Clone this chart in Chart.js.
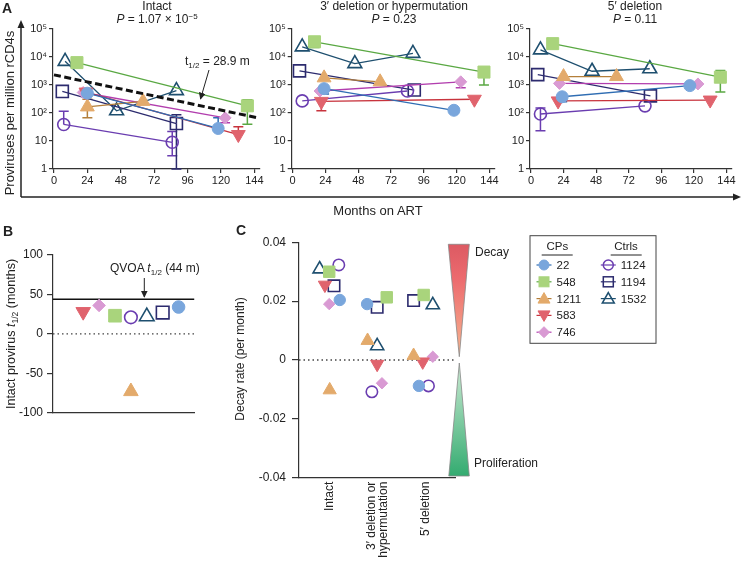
<!DOCTYPE html>
<html>
<head>
<meta charset="utf-8">
<script src="https://cdn.jsdelivr.net/npm/chart.js@4.4.1/dist/chart.umd.min.js"></script>
<style>
    body { margin: 0; background: #fff; }
    #fig { position: relative; width: 742px; height: 561px; overflow: hidden; background: #fff; }
    #fig canvas { position: absolute; }
    #ov { position: absolute; left: 0; top: 0; pointer-events: none; }
</style>
</head>
<body>
<div id="fig">
    <canvas id="intactChart" width="250" height="200" style="left:20px;top:0"></canvas>
    <canvas id="del3Chart" width="245" height="200" style="left:260px;top:0"></canvas>
    <canvas id="del5Chart" width="244" height="200" style="left:498px;top:0"></canvas>
    <canvas id="halfLifeChart" width="205" height="200" style="left:0;top:225px"></canvas>
    <canvas id="decayChart" width="215" height="336" style="left:250px;top:225px"></canvas>

    <svg id="ov" width="742" height="561" xmlns="http://www.w3.org/2000/svg"
         font-family='"Liberation Sans", Arial, Helvetica, sans-serif' fill="#222">
        <defs>
            <marker id="ah" viewBox="0 0 10 10" refX="9" refY="5" markerWidth="7" markerHeight="7" orient="auto">
                <path d="M0,0 L10,5 L0,10 z" fill="#222"/>
            </marker>
            <linearGradient id="gDecay" x1="0" y1="0" x2="0" y2="1">
                <stop offset="0" stop-color="#dc5a63"/>
                <stop offset="0.3" stop-color="#ec6a6e"/>
                <stop offset="1" stop-color="#f8b590"/>
            </linearGradient>
            <linearGradient id="gProl" x1="0" y1="0" x2="0" y2="1">
                <stop offset="0" stop-color="#cdebd4"/>
                <stop offset="1" stop-color="#33ab70"/>
            </linearGradient>
        </defs>

        <!-- panel A frame -->
        <text x="2" y="13" font-weight="bold" font-size="14">A</text>
        <path d="M21,197 V27" stroke="#222" stroke-width="1.5" fill="none"/>
        <polygon points="21,20 17.5,28 24.5,28" fill="#222"/>
        <path d="M21,197 H734" stroke="#222" stroke-width="1.5" fill="none"/>
        <polygon points="741,197 733,193.5 733,200.5" fill="#222"/>
        <text transform="translate(14,113) rotate(-90)" text-anchor="middle" font-size="13">Proviruses per million rCD4s</text>
        <text x="378" y="215" text-anchor="middle" font-size="13">Months on ART</text>

        <text x="157" y="10" text-anchor="middle" font-size="12">Intact</text>
        <text x="157" y="22.5" text-anchor="middle" font-size="12"><tspan font-style="italic">P</tspan> = 1.07 × 10<tspan dy="-4" font-size="8">−5</tspan></text>
        <text x="394" y="10" text-anchor="middle" font-size="12">3′ deletion or hypermutation</text>
        <text x="394" y="22.5" text-anchor="middle" font-size="12"><tspan font-style="italic">P</tspan> = 0.23</text>
        <text x="635" y="10" text-anchor="middle" font-size="12">5′ deletion</text>
        <text x="635" y="22.5" text-anchor="middle" font-size="12"><tspan font-style="italic">P</tspan> = 0.11</text>

        <text x="185" y="65" font-size="12">t<tspan font-size="8" dy="3">1/2</tspan><tspan dy="-3"> = 28.9 m</tspan></text>
        <line x1="209" y1="70" x2="200.5" y2="99" stroke="#222" stroke-width="1" marker-end="url(#ah)"/>

        <!-- panel B -->
        <text x="3" y="236" font-weight="bold" font-size="14">B</text>
        <text transform="translate(15,334) rotate(-90)" text-anchor="middle" font-size="12.5">Intact provirus <tspan font-style="italic">t</tspan><tspan font-size="8.5" dy="3">1/2</tspan><tspan dy="-3"> (months)</tspan></text>
        <text x="110" y="272" font-size="12">QVOA <tspan font-style="italic">t</tspan><tspan font-size="8" dy="3">1/2</tspan><tspan dy="-3"> (44 m)</tspan></text>
        <line x1="144.3" y1="278" x2="144.3" y2="297" stroke="#222" stroke-width="1" marker-end="url(#ah)"/>

        <!-- panel C -->
        <text x="236" y="235" font-weight="bold" font-size="14">C</text>
        <text transform="translate(244,359) rotate(-90)" text-anchor="middle" font-size="12">Decay rate (per month)</text>
        <polygon points="448.3,244.3 469.3,244.3 459.3,356.7" fill="url(#gDecay)" stroke="#888" stroke-width="0.8"/>
        <polygon points="459.3,363 448.8,476 469.3,476" fill="url(#gProl)" stroke="#888" stroke-width="0.8"/>
        <text x="475" y="256" font-size="12">Decay</text>
        <text x="474" y="467" font-size="12">Proliferation</text>

        <g id="legend">
            <rect x="530" y="235.7" width="126" height="107.6" fill="#fff" stroke="#444" stroke-width="1"/>
            <text x="557.3" y="250" text-anchor="middle" font-size="11.5">CPs</text>
            <line x1="541.7" y1="255" x2="572.7" y2="255" stroke="#222" stroke-width="1"/>
            <text x="626" y="250" text-anchor="middle" font-size="11.5">Ctrls</text>
            <line x1="610.7" y1="255" x2="641.7" y2="255" stroke="#222" stroke-width="1"/>
        </g>
    </svg>
</div>

<script>
(function () {
    'use strict';

    const FONT = '"Liberation Sans", Arial, Helvetica, sans-serif';
    Chart.defaults.font.family = FONT;
    Chart.defaults.color = '#222';

    // ---- data ----
    const patients = ['22', '548', '1211', '583', '746', '1124', '1194', '1532'];
    const monthTicks = [0, 24, 48, 72, 96, 120, 144];
    const logTicks = [1, 10, 100, 1000, 10000, 100000];
    const logTickLabels = ['1', '10', '10²', '10³', '10⁴', '10⁵'];

    // A: intact proviruses (months on ART, copies per million rCD4s)
    const intactMonths = [[24, 118], [16.5, 139], [24, 64], [23, 132.5], [21, 123], [7, 85], [6, 88], [8, 45, 88]];
    const intactCounts = [[510, 28], [6300, 180], [165, 260], [560, 17], [540, 67], [39, 9], [590, 42], [7000, 120, 630]];
    // [patient, point, low, high]
    const intactErrors = [[1, 1, 40, 300], [6, 1, 1, 87], [0, 1, null, 67], [4, 1, 45, null],
        [3, 1, null, 32], [2, 0, 68, 310], [5, 0, null, 115], [5, 1, 3, 22]];
    const intactFitMonths = [0, 146];
    const intactFitCounts = [2300, 68];

    // A: 3' deletion or hypermutation
    const del3Months = [[23, 118], [16, 140], [23, 64], [21, 133], [20, 123], [7, 84], [5, 89], [7, 45.5, 88]];
    const del3Counts = [[740, 125], [35000, 2900], [1800, 1300], [260, 310], [610, 1300], [270, 610], [3200, 660], [23000, 5800, 13500]];
    const del3Errors = [[1, 0, 22000, null], [1, 1, 1000, null], [4, 1, 800, null], [0, 0, 480, null], [3, 0, 120, null]];

    // A: 5' deletion
    const del5Months = [[23, 117], [16, 139.5], [24, 63], [20, 132], [21, 123], [7, 84], [5, 88], [7, 45, 87.5]];
    const del5Counts = [[380, 950], [30000, 1900], [2000, 2000], [270, 290], [1140, 1090], [92, 180], [2350, 410], [18000, 3100, 3800]];
    const del5Errors = [[1, 0, 20000, null], [1, 1, 560, 3300], [5, 0, 23, 150], [0, 0, 250, null]];

    // B: intact provirus half-life (months)
    const halfLifePos = [8, 4, 5, 2, 3, 5, 7, 6];
    const halfLifeMonths = [34, 23, -73, 28, 36, 21, 27, 22];
    const halfLifeTicks = [-100, -50, 0, 50, 100];
    const qvoaHalfLife = 44;

    // C: decay rate per month
    const decayGroups = ['Intact', ['3′ deletion or', 'hypermutation'], '5′ deletion'];
    const decayIntact = [0.0204, 0.030, -0.0102, 0.0255, 0.019, 0.0323, 0.0252, 0.0309];
    const decay3 = [0.019, 0.0213, 0.0066, -0.0014, -0.0079, -0.0108, 0.0179, 0.0048];
    const decay5 = [-0.0088, 0.0221, 0.0015, -0.0006, 0.0011, -0.0088, 0.0202, 0.0187];
    const jitterIntact = [0.21, -0.01, 0, -0.10, -0.01, 0.19, 0.09, -0.21];
    const jitter3 = [-0.22, 0.19, -0.21, -0.01, 0.09, -0.12, -0.01, -0.01];
    const jitter5 = [-0.14, -0.04, -0.25, -0.06, 0.15, 0.06, -0.25, 0.15];
    const decayTicks = [-0.04, -0.02, 0, 0.02, 0.04];

    // ---- styles ----
    const styles = [
        { shape: 'circle', fill: '#79a6dc', line: '#2f6db3' },
        { shape: 'rect', fill: '#a9d47c', line: '#5aa843' },
        { shape: 'triangle', fill: '#e3aa6b', line: '#b47f3a' },
        { shape: 'down', fill: '#e0636d', line: '#c8333d' },
        { shape: 'rectRot', fill: '#d99ad3', line: '#b23eae' },
        { shape: 'circle', open: true, line: '#6a3db0' },
        { shape: 'rect', open: true, line: '#2c2b6e' },
        { shape: 'triangle', open: true, line: '#1e4f6f' }
    ];
    const radii = { circle: 6, rect: 8.5, triangle: 8, down: 8, rectRot: 6 };

    function pointOpts(s, k) {
        return {
            pointStyle: s.shape === 'down' ? 'triangle' : s.shape,
            pointRotation: s.shape === 'down' ? 180 : 0,
            pointRadius: radii[s.shape] * k,
            pointBackgroundColor: s.open ? 'rgba(255,255,255,0)' : s.fill,
            pointBorderColor: s.open ? s.line : s.fill,
            pointBorderWidth: s.open ? 1.6 : 1
        };
    }

    const axisGrid = { drawOnChartArea: false, color: '#333', lineWidth: 1.2 };
    const axisBorder = { color: '#333', width: 1.2 };

    // error bars drawn beneath the symbols
    Chart.register({
        id: 'errorBars',
        beforeDatasetsDraw: function (chart) {
            const ctx = chart.ctx;
            const x = chart.scales.x, y = chart.scales.y;
            ctx.save();
            ctx.lineWidth = 1.5;
            chart.data.datasets.forEach(function (ds) {
                (ds.errors || []).forEach(function (e) {
                    const pt = ds.data[e[0]];
                    const px = x.getPixelForValue(pt.x);
                    const py = y.getPixelForValue(pt.y);
                    ctx.strokeStyle = ds.borderColor;
                    [e[1], e[2]].forEach(function (v) {
                        if (v === null) return;
                        const vy = y.getPixelForValue(v);
                        ctx.beginPath();
                        ctx.moveTo(px, py);
                        ctx.lineTo(px, vy);
                        ctx.moveTo(px - 5, vy);
                        ctx.lineTo(px + 5, vy);
                        ctx.stroke();
                    });
                });
            });
            ctx.restore();
        }
    });

    function provirusChart(id, months, counts, errors, yWidth, padRight, extra) {
        const datasets = patients.map(function (p, i) {
            const s = styles[i];
            return Object.assign({
                label: p,
                data: months[i].map(function (m, j) { return { x: m, y: counts[i][j] }; }),
                showLine: true,
                borderColor: s.line,
                borderWidth: 1.3,
                clip: false,
                errors: errors.filter(function (e) { return e[0] === i; }).map(function (e) { return e.slice(1); })
            }, pointOpts(s, 1));
        });
        if (extra) datasets.unshift(extra);

        new Chart(document.getElementById(id), {
            type: 'scatter',
            data: { datasets: datasets },
            options: {
                responsive: false,
                animation: false,
                events: [],
                layout: { padding: { left: 0, top: 29, right: padRight, bottom: 4 } },
                plugins: { legend: { display: false }, tooltip: { enabled: false } },
                scales: {
                    x: {
                        type: 'linear', min: -0.7, max: 148,
                        afterBuildTicks: function (s) { s.ticks = monthTicks.map(function (v) { return { value: v }; }); },
                        afterFit: function (s) { s.height = 27; },
                        ticks: { font: { size: 11 }, padding: 1, maxRotation: 0, autoSkip: false },
                        grid: Object.assign({ tickLength: 4 }, axisGrid),
                        border: axisBorder
                    },
                    y: {
                        type: 'logarithmic', min: 1, max: 100000,
                        afterBuildTicks: function (s) { s.ticks = logTicks.map(function (v) { return { value: v }; }); },
                        afterFit: function (s) { s.width = yWidth; },
                        ticks: {
                            font: { size: 11 }, padding: 2, autoSkip: false,
                            callback: function (v, i) { return logTickLabels[i]; }
                        },
                        grid: Object.assign({ tickLength: 4 }, axisGrid),
                        border: axisBorder
                    }
                }
            }
        });
    }

    provirusChart('intactChart', intactMonths, intactCounts, intactErrors, 33, 7, {
        label: 'fit',
        data: intactFitMonths.map(function (m, j) { return { x: m, y: intactFitCounts[j] }; }),
        showLine: true,
        borderColor: '#111',
        borderWidth: 3,
        borderDash: [7, 3.5],
        pointRadius: 0,
        order: -1,
        clip: false
    });
    provirusChart('del3Chart', del3Months, del3Counts, del3Errors, 31.7, 5);
    provirusChart('del5Chart', del5Months, del5Counts, del5Errors, 32, 3);

    // ---- B ----
    const bMin = 0.1, bMax = 9;
    const bDatasets = patients.map(function (p, i) {
        return Object.assign({
            label: p,
            data: [{ x: halfLifePos[i], y: halfLifeMonths[i] }],
            clip: false
        }, pointOpts(styles[i], 1.05));
    });
    bDatasets.push({
        label: 'QVOA',
        data: [{ x: bMin, y: qvoaHalfLife }, { x: bMax, y: qvoaHalfLife }],
        showLine: true, borderColor: '#111', borderWidth: 1.5, pointRadius: 0
    });
    bDatasets.push({
        label: 'zero',
        data: [{ x: bMin, y: 0 }, { x: bMax, y: 0 }],
        showLine: true, borderColor: '#444', borderWidth: 1.3, borderDash: [1.5, 3], pointRadius: 0
    });

    new Chart(document.getElementById('halfLifeChart'), {
        type: 'scatter',
        data: { datasets: bDatasets },
        options: {
            responsive: false,
            animation: false,
            events: [],
            layout: { padding: { left: 0, top: 30, right: 5, bottom: 0 } },
            plugins: { legend: { display: false }, tooltip: { enabled: false } },
            scales: {
                x: {
                    type: 'linear', min: bMin, max: bMax,
                    afterFit: function (s) { s.height = 12.3; },
                    ticks: { display: false },
                    grid: { display: false },
                    border: axisBorder
                },
                y: {
                    type: 'linear', min: -100, max: 100,
                    afterBuildTicks: function (s) { s.ticks = halfLifeTicks.map(function (v) { return { value: v }; }); },
                    afterFit: function (s) { s.width = 53; },
                    ticks: { font: { size: 12 }, padding: 4, autoSkip: false },
                    grid: Object.assign({ tickLength: 6 }, axisGrid),
                    border: axisBorder
                }
            }
        }
    });

    // ---- C ----
    const cMin = 0.36, cMax = 3.62;
    const cDatasets = patients.map(function (p, i) {
        return Object.assign({
            label: p,
            data: [
                { x: 1 + jitterIntact[i], y: decayIntact[i] },
                { x: 2 + jitter3[i], y: decay3[i] },
                { x: 3 + jitter5[i], y: decay5[i] }
            ],
            clip: false
        }, pointOpts(styles[i], 0.95));
    });
    cDatasets.push({
        label: 'zero',
        data: [{ x: cMin, y: 0 }, { x: cMax - 0.03, y: 0 }],
        showLine: true, borderColor: '#444', borderWidth: 1.3, borderDash: [1.5, 3], pointRadius: 0
    });

    new Chart(document.getElementById('decayChart'), {
        type: 'scatter',
        data: { datasets: cDatasets },
        options: {
            responsive: false,
            animation: false,
            events: [],
            layout: { padding: { left: 0, top: 17.3, right: 8, bottom: 3.3 } },
            plugins: { legend: { display: false }, tooltip: { enabled: false } },
            scales: {
                x: {
                    type: 'linear', min: cMin, max: cMax,
                    afterFit: function (s) { s.height = 80; },
                    ticks: { display: false },
                    grid: { display: false },
                    border: axisBorder
                },
                y: {
                    type: 'linear', min: -0.04, max: 0.04,
                    afterBuildTicks: function (s) { s.ticks = decayTicks.map(function (v) { return { value: v }; }); },
                    afterFit: function (s) { s.width = 49; },
                    ticks: {
                        font: { size: 12 }, padding: 6, autoSkip: false,
                        callback: function (v) { return v === 0 ? '0' : v.toFixed(2); }
                    },
                    grid: Object.assign({ tickLength: 7 }, axisGrid),
                    border: axisBorder
                }
            }
        },
        plugins: [{
            id: 'groupLabels',
            afterDraw: function (chart) {
                const ctx = chart.ctx;
                const x = chart.scales.x;
                const top = chart.chartArea.bottom + 4;
                ctx.save();
                ctx.font = '12px ' + FONT;
                ctx.fillStyle = '#222';
                ctx.textAlign = 'right';
                ctx.textBaseline = 'middle';
                decayGroups.forEach(function (g, k) {
                    const lines = [].concat(g);
                    const cx = x.getPixelForValue(k + 1);
                    lines.forEach(function (t, j) {
                        ctx.save();
                        ctx.translate(cx + (j - (lines.length - 1) / 2) * 12.5, top);
                        ctx.rotate(-Math.PI / 2);
                        ctx.fillText(t, 0, 0);
                        ctx.restore();
                    });
                });
                ctx.restore();
            }
        }]
    });

    // ---- legend ----
    const NS = 'http://www.w3.org/2000/svg';
    const legend = document.getElementById('legend');
    function add(tag, attrs, text) {
        const el = document.createElementNS(NS, tag);
        Object.keys(attrs).forEach(function (k) { el.setAttribute(k, attrs[k]); });
        if (text) el.textContent = text;
        legend.appendChild(el);
        return el;
    }
    function legendMarker(s, cx, cy) {
        add('line', { x1: cx - 7.5, y1: cy, x2: cx + 7.5, y2: cy, stroke: s.line, 'stroke-width': 1.2 });
        const paint = {
            fill: s.open ? 'none' : s.fill,
            stroke: s.open ? s.line : s.fill,
            'stroke-width': s.open ? 1.5 : 1
        };
        let pts;
        if (s.shape === 'circle') {
            add('circle', Object.assign({ cx: cx, cy: cy, r: 5 }, paint));
            return;
        }
        if (s.shape === 'rect') {
            add('rect', Object.assign({ x: cx - 5, y: cy - 5, width: 10, height: 10 }, paint));
            return;
        }
        if (s.shape === 'triangle') pts = [cx, cy - 6, cx + 6, cy + 4.5, cx - 6, cy + 4.5];
        if (s.shape === 'down') pts = [cx, cy + 6, cx + 6, cy - 4.5, cx - 6, cy - 4.5];
        if (s.shape === 'rectRot') pts = [cx, cy - 5.5, cx + 5.5, cy, cx, cy + 5.5, cx - 5.5, cy];
        add('polygon', Object.assign({ points: pts.join(' ') }, paint));
    }
    patients.forEach(function (p, i) {
        const ctrl = i >= 5;
        const row = ctrl ? i - 5 : i;
        const cy = 265 + row * 16.8;
        const mx = ctrl ? 608.3 : 544;
        legendMarker(styles[i], mx, cy);
        add('text', { x: mx + 12.5, y: cy + 4, 'font-size': 11.5 }, p);
    });
})();
</script>
</body>
</html>
